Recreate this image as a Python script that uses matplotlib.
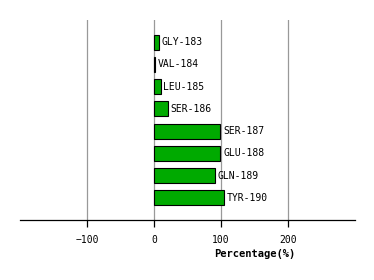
import matplotlib
matplotlib.use("Agg")
import matplotlib.pyplot as plt

labels = ["GLY-183", "VAL-184", "LEU-185", "SER-186", "SER-187", "GLU-188", "GLN-189", "TYR-190"]
values = [7, 2, 10, 21, 99, 99, 91, 105]
xticks = [-100, 0, 100, 200]

plt.rcParams['font.family'] = ['DejaVu Sans Mono']
fig = plt.figure(figsize=(3.74, 2.80), dpi=100)
ax = fig.add_axes([20/374, 60/280, 335/374, 200/280])

pos = list(range(len(labels)))
ax.barh(pos, values, height=0.68, color="#00AA00", edgecolor="black", linewidth=0.8, zorder=3)
for p, v, l in zip(pos, values, labels):
    ax.text(v + 4, p, l, va="center", ha="left", fontsize=7, zorder=4)

ax.set_xlim(-200, 300)
ax.set_ylim(8, -1)
ax.set_xticks(xticks)
ax.set_yticks([])
for t in xticks:
    ax.axvline(t, color="#999999", linewidth=0.9, zorder=1)
for s in ["top", "left", "right"]:
    ax.spines[s].set_visible(False)
ax.spines["bottom"].set_linewidth(0.9)
ax.tick_params(axis="x", direction="out", length=5, width=0.9, labelsize=7, pad=6)
fig.text(255/374, 1 - 254/280, "Percentage(%)", ha="center", va="center", fontsize=7.5, fontweight="bold")

fig.savefig("out.png", dpi=100)
